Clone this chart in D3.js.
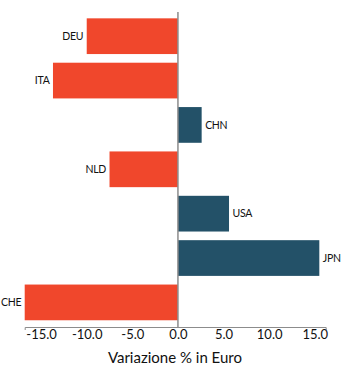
<!DOCTYPE html>
<html>
<head>
<meta charset="utf-8">
<script src="https://cdnjs.cloudflare.com/ajax/libs/d3/7.8.5/d3.min.js"></script>
<style>
  body { margin: 0; background: #fff; }
  svg text { font-family: Lato, "Noto Sans", sans-serif; }
</style>
</head>
<body>
<div id="chart"></div>
<script>
// dati: variazione % in euro per paese
const countries = ["DEU", "ITA", "CHN", "NLD", "USA", "JPN", "CHE"];
const values = [-10.0, -13.7, 2.6, -7.5, 5.6, 15.5, -16.8];
const tickValues = [-15, -10, -5, 0, 5, 10, 15];
const axisTitle = "Variazione % in Euro";

const W = 351, H = 374;

const svg = d3.select("#chart")
    .append("svg")
    .attr("width", W)
    .attr("height", H);

const data = countries.map((c, i) => ({ country: c, value: values[i] }));

// scale x
const x = d3.scaleLinear()
    .domain([-16.8, 16.2])
    .range([24.7, 325.7]);

// scale y
const y = d3.scaleBand()
    .domain(countries)
    .range([13.9, 324.7])
    .paddingInner(0.195)
    .paddingOuter(0.1);

// barre
svg.append("g")
    .selectAll("rect")
    .data(data)
    .join("rect")
    .attr("x", d => x(Math.min(0, d.value)))
    .attr("y", d => y(d.country))
    .attr("width", d => Math.abs(x(d.value) - x(0)))
    .attr("height", y.bandwidth())
    .attr("fill", d => d.value < 0 ? "#f0472c" : "#235168");

// linea dello zero
svg.append("line")
    .attr("x1", x(0)).attr("x2", x(0))
    .attr("y1", 12).attr("y2", 327)
    .attr("stroke", "#8c8c8c")
    .attr("stroke-width", 1.5);

// etichette dei paesi
svg.append("g")
    .selectAll("text")
    .data(data)
    .join("text")
    .attr("x", d => d.value < 0 ? x(d.value) - 3.5 : x(d.value) + 3.5)
    .attr("y", d => y(d.country) + y.bandwidth() / 2)
    .attr("dy", "0.35em")
    .attr("text-anchor", d => d.value < 0 ? "end" : "start")
    .style("font-size", "10.5px")
    .style("letter-spacing", "-0.3px")
    .attr("fill", "#111")
    .text(d => d.country);

// asse x
const xAxis = svg.append("g")
    .attr("transform", "translate(0,327)")
    .call(d3.axisBottom(x)
        .tickValues(tickValues)
        .tickFormat(d => d.toFixed(1))
        .tickSizeInner(0)
        .tickSizeOuter(3)
        .tickPadding(3));

xAxis.select(".domain").attr("stroke", "#8c8c8c");
xAxis.selectAll("text")
    .style("font-size", "13px")
    .attr("fill", "#111");

// titolo asse
svg.append("text")
    .attr("x", x(0) - 3)
    .attr("y", 363)
    .attr("text-anchor", "middle")
    .style("font-size", "15px")
    .attr("fill", "#111")
    .text(axisTitle);
</script>
</body>
</html>
